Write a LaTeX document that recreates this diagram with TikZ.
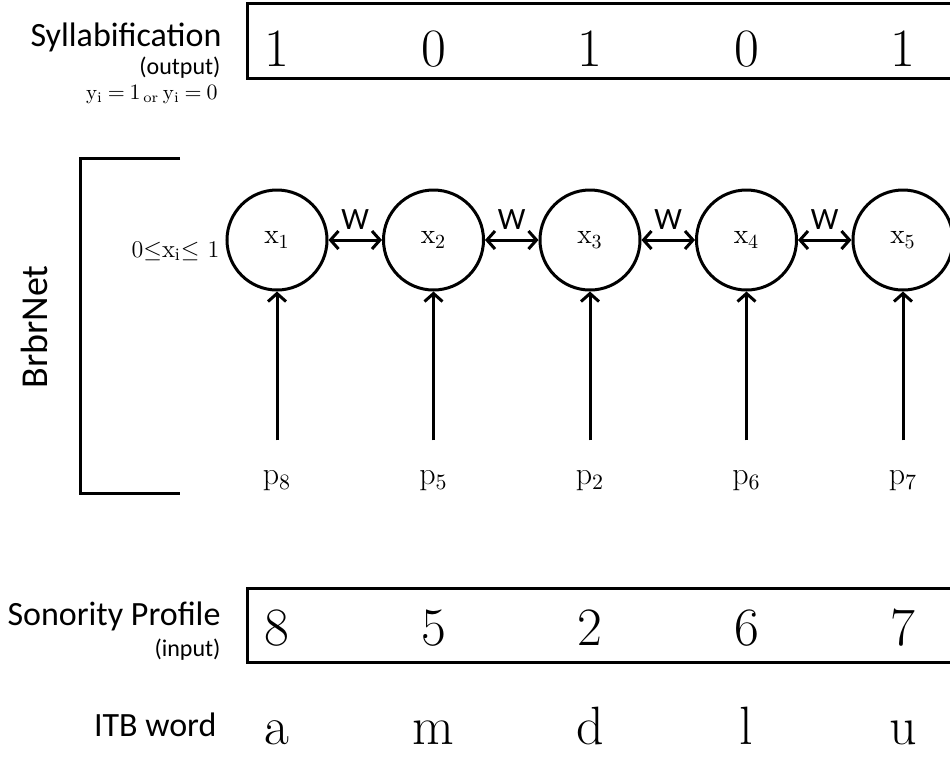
\documentclass[tikz,border=0pt]{standalone}
\usepackage{fontspec}
\newfontfamily\carlito{Carlito}
\usetikzlibrary{quotes,arrows.meta}

\begin{document}
\begin{tikzpicture}[x=0.5pt, y=-0.5pt, line width=1.5pt,
  every edge quotes/.append style={auto, text=black, inner sep=4.5pt, font=\carlito\fontsize{15.5}{18}\selectfont},
  lbl/.style={anchor=base east, inner sep=0pt, font=\carlito\fontsize{17}{20}\selectfont},
  sublbl/.style={anchor=base east, inner sep=0pt, font=\carlito\fontsize{12}{14}\selectfont},
  rulelbl/.style={anchor=base east, inner sep=0pt, font=\fontsize{12.5}{15}\selectfont},
  unit/.style={circle, draw, minimum size=50pt, inner sep=0pt, font=\fontsize{14}{16}\selectfont},
  cell/.style={anchor=base, inner sep=0pt, font=\fontsize{27}{30}\selectfont},
  plbl/.style={anchor=base, inner sep=0pt, font=\fontsize{16}{18}\selectfont},
  link/.style={{Straight Barb[length=4pt,width=9pt]}-{Straight Barb[length=4pt,width=9pt]}},
  feed/.style={-{Straight Barb[length=4pt,width=9pt]}, shorten <=14pt}]
\useasboundingbox (0,0) rectangle (950,757);
\clip (0,0) rectangle (950,757);
% output and input rows run off the right edge
\draw (247,3.5) rectangle (1000,78);
\draw (247,588) rectangle (1000,662);
\draw (180,158) -- (80,158) -- (80,493) -- (180,493);
\node[lbl] (syl) at (223,46) {Syllabification};
\node[sublbl] (out) at (222,74) {(output)};
\node[rulelbl, font=\fontsize{10.5}{12}\selectfont] (yrule) at (219,99)
  {\thickmuskip=4mu$\mathrm{y_i}=1_{\,\mathrm{or}}\,\mathrm{y_i}=0$};
\node[rotate=90, font=\carlito\fontsize{19}{22}\selectfont] (net) at (34,327) {BrbrNet};
\node[rulelbl] (xrule) at (221,257) {$0{\leq}\mathrm{x_i}{\leq}\ 1$};
\node[lbl] (son) at (222,625) {Sonority Profile};
\node[sublbl] (inp) at (222,656) {(input)};
\node[lbl] (itb) at (218,736) {ITB word};
\foreach \i/\y/\s/\l [count=\k from 0] in {1/1/8/a, 2/0/5/m, 3/1/2/d, 4/0/6/l, 5/1/7/u} {
  \pgfmathsetmacro{\cx}{277+156.5*\k}
  \node[cell] (y\i) at (\cx,66) {\y};
  \node[unit] (x\i) at (\cx,240) {$\mathrm{x}_{\i}$};
  \node[plbl] (p\i) at (\cx,484) {$\mathrm{p}_{\s}$};
  \node[cell] (s\i) at (\cx,645) {\s};
  \node[cell] (w\i) at (\cx,744) {\l};
  \draw[feed] (p\i) -- (x\i);
}
\foreach \a/\b in {1/2, 2/3, 3/4, 4/5}
  \path (x\a) edge[link, "W"] (x\b);
\end{tikzpicture}
\end{document}
